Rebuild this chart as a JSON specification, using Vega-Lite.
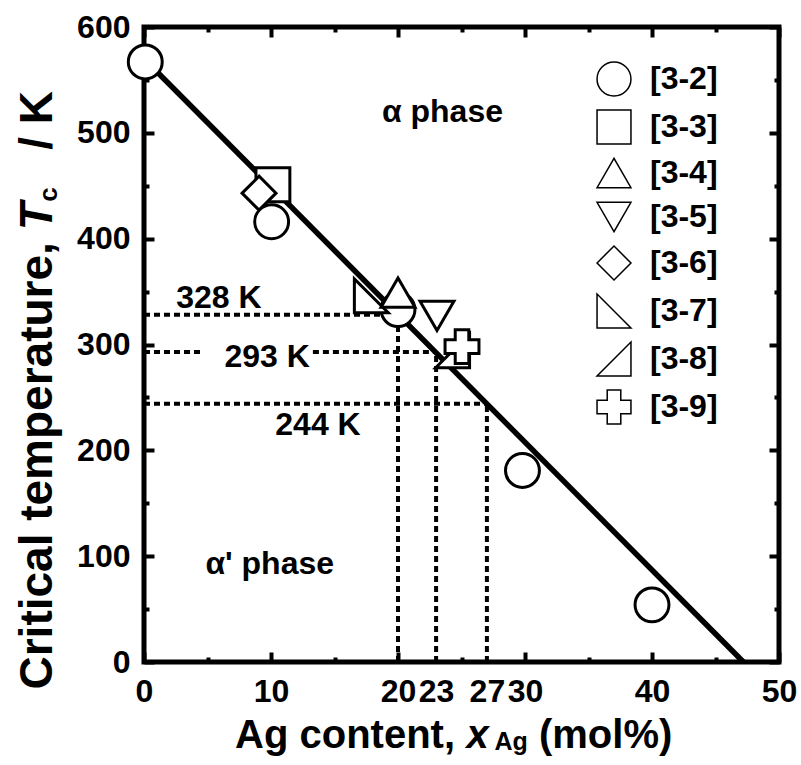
{
  "$schema": "https://vega.github.io/schema/vega-lite/v6.json",
  "width": 635,
  "height": 635,
  "autosize": "none",
  "padding": {"left": 144, "top": 27, "right": 22, "bottom": 103},
  "background": "white",
  "config": {
    "view": {"stroke": "black", "strokeWidth": 5},
    "font": "Liberation Sans",
    "axis": {
      "domain": false,
      "grid": false,
      "title": null,
      "labelFont": "Liberation Sans",
      "labelFontSize": 32,
      "labelFontWeight": "bold",
      "labelColor": "black",
      "tickColor": "black",
      "tickWidth": 4,
      "labelOverlap": false,
      "labelFlush": false
    }
  },
  "datasets": {
    "fit": [
      {"x": 0, "T": 570},
      {"x": 47.2, "T": 0}
    ],
    "guides": [
      {"x": 0, "x2": 20, "y": 328, "y2": 328},
      {"x": 0, "x2": 4.7, "y": 293, "y2": 293},
      {"x": 13.3, "x2": 23, "y": 293, "y2": 293},
      {"x": 0, "x2": 27, "y": 244, "y2": 244},
      {"x": 20, "x2": 20, "y": 0, "y2": 328},
      {"x": 23, "x2": 23, "y": 0, "y2": 293},
      {"x": 27, "x2": 27, "y": 0, "y2": 244}
    ],
    "points": [
      {"ref": "[3-3]", "x": 10.15, "T": 451},
      {"ref": "[3-6]", "x": 9.06, "T": 443},
      {"ref": "[3-2]", "x": 0.1, "T": 567},
      {"ref": "[3-2]", "x": 10.05, "T": 416},
      {"ref": "[3-2]", "x": 20.0, "T": 333},
      {"ref": "[3-2]", "x": 29.8, "T": 181},
      {"ref": "[3-2]", "x": 40.0, "T": 54},
      {"ref": "[3-7]", "x": 17.9, "T": 346},
      {"ref": "[3-4]", "x": 20.0, "T": 349},
      {"ref": "[3-5]", "x": 23.07, "T": 327},
      {"ref": "[3-8]", "x": 24.3, "T": 294},
      {"ref": "[3-9]", "x": 25.04, "T": 298}
    ],
    "notes": [
      {"x": 23.5, "T": 520, "label": "α phase"},
      {"x": 9.9, "T": 93, "label": "α' phase"},
      {"x": 5.9, "T": 344, "label": "328 K"},
      {"x": 9.7, "T": 288, "label": "293 K"},
      {"x": 13.7, "T": 224, "label": "244 K"}
    ],
    "anchor": [{}]
  },
  "resolve": {"axis": {"x": "independent", "y": "independent"}},
  "layer": [
    {
      "data": {"name": "fit"},
      "mark": {"type": "line", "color": "black", "strokeWidth": 5.5, "strokeCap": "butt"},
      "encoding": {
        "x": {
          "field": "x", "type": "quantitative",
          "scale": {"domain": [0, 50], "nice": false, "zero": false},
          "axis": {"orient": "bottom", "values": [0, 10, 20, 23, 27, 30, 40, 50], "ticks": false, "labelPadding": 14}
        },
        "y": {
          "field": "T", "type": "quantitative",
          "scale": {"domain": [0, 600], "nice": false, "zero": false},
          "axis": {"orient": "left", "values": [0, 100, 200, 300, 400, 500, 600], "ticks": false, "labelPadding": 14}
        }
      }
    },
    {
      "data": {"name": "guides"},
      "mark": {"type": "rule", "color": "black", "strokeWidth": 4, "strokeDash": [6, 4], "strokeCap": "butt"},
      "encoding": {
        "x": {"field": "x", "type": "quantitative",
          "axis": {"orient": "bottom", "values": [0, 10, 20, 30, 40, 50], "labels": false, "tickSize": -10}},
        "x2": {"field": "x2"},
        "y": {"field": "y", "type": "quantitative",
          "axis": {"orient": "left", "values": [0, 100, 200, 300, 400, 500, 600], "labels": false, "tickSize": -10}},
        "y2": {"field": "y2"}
      }
    },
    {
      "data": {"name": "notes"},
      "mark": {"type": "text", "font": "Liberation Sans", "fontWeight": "bold", "fontSize": 32, "align": "center", "baseline": "middle", "color": "black"},
      "encoding": {
        "x": {"field": "x", "type": "quantitative",
          "axis": {"orient": "bottom", "values": [5, 15, 25, 35, 45], "labels": false, "tickSize": -5}},
        "y": {"field": "T", "type": "quantitative",
          "axis": {"orient": "left", "values": [50, 150, 250, 350, 450, 550], "labels": false, "tickSize": -5}},
        "text": {"field": "label"}
      }
    },
    {
      "data": {"name": "points"},
      "mark": {"type": "point", "filled": true, "fill": "white", "stroke": "black", "strokeWidth": 3, "size": 1150, "opacity": 1},
      "encoding": {
        "x": {"field": "x", "type": "quantitative",
          "axis": {"orient": "top", "values": [0, 10, 20, 30, 40, 50], "labels": false, "tickSize": -10}},
        "y": {"field": "T", "type": "quantitative",
          "axis": {"orient": "right", "values": [0, 100, 200, 300, 400, 500, 600], "labels": false, "tickSize": -10}},
        "shape": {
          "field": "ref", "type": "nominal",
          "scale": {
            "domain": ["[3-2]", "[3-3]", "[3-4]", "[3-5]", "[3-6]", "[3-7]", "[3-8]", "[3-9]"],
            "range": ["circle", "square", "triangle-up", "triangle-down", "diamond", "M -1 -1 L -1 1 L 1 1 Z", "M 1 -1 L 1 1 L -1 1 Z", "cross"]
          },
          "legend": {
            "title": null,
            "orient": "none",
            "legendX": 452,
            "legendY": 34,
            "padding": 0,
            "symbolSize": 1150,
            "labelFont": "Liberation Sans",
            "labelFontSize": 32,
            "labelFontWeight": "bold",
            "labelColor": "black",
            "labelOffset": 18,
            "rowPadding": 8,
            "encode": {
              "symbols": {
                "update": {
                  "fill": {"value": "white"},
                  "stroke": {"value": "black"},
                  "strokeWidth": {"value": 3},
                  "opacity": {"value": 1}
                }
              }
            }
          }
        }
      }
    },
    {
      "data": {"name": "anchor"},
      "mark": {"type": "text", "font": "Liberation Sans", "fontWeight": "bold", "fontSize": 40, "align": "left", "baseline": "alphabetic", "color": "black"},
      "encoding": {
        "x": {"datum": 7.17, "type": "quantitative",
          "axis": {"orient": "top", "values": [5, 15, 25, 35, 45], "labels": false, "tickSize": -5}},
        "y": {"datum": -81, "type": "quantitative",
          "axis": {"orient": "right", "values": [50, 150, 250, 350, 450, 550], "labels": false, "tickSize": -5}},
        "text": {"value": "Ag content,"}
      }
    },
    {
      "data": {"name": "anchor"},
      "mark": {"type": "text", "font": "Liberation Sans", "fontWeight": "bold", "fontStyle": "italic", "fontSize": 40, "align": "left", "baseline": "alphabetic", "color": "black"},
      "encoding": {
        "x": {"datum": 25.4, "type": "quantitative", "axis": null},
        "y": {"datum": -81, "type": "quantitative", "axis": null},
        "text": {"value": "x"}
      }
    },
    {
      "data": {"name": "anchor"},
      "mark": {"type": "text", "font": "Liberation Sans", "fontWeight": "bold", "fontSize": 25, "align": "left", "baseline": "alphabetic", "color": "black"},
      "encoding": {
        "x": {"datum": 27.6, "type": "quantitative", "axis": null},
        "y": {"datum": -83, "type": "quantitative", "axis": null},
        "text": {"value": "Ag"}
      }
    },
    {
      "data": {"name": "anchor"},
      "mark": {"type": "text", "font": "Liberation Sans", "fontWeight": "bold", "fontSize": 40, "align": "left", "baseline": "alphabetic", "color": "black"},
      "encoding": {
        "x": {"datum": 31.1, "type": "quantitative", "axis": null},
        "y": {"datum": -81, "type": "quantitative", "axis": null},
        "text": {"value": "(mol%)"}
      }
    },
    {
      "data": {"name": "anchor"},
      "mark": {"type": "text", "font": "Liberation Sans", "fontWeight": "bold", "fontSize": 46, "angle": 270, "align": "left", "baseline": "alphabetic", "color": "black"},
      "encoding": {
        "x": {"datum": -7.24, "type": "quantitative", "axis": null},
        "y": {"datum": -26, "type": "quantitative", "axis": null},
        "text": {"value": "Critical temperature,"}
      }
    },
    {
      "data": {"name": "anchor"},
      "mark": {"type": "text", "font": "Liberation Sans", "fontWeight": "bold", "fontStyle": "italic", "fontSize": 46, "angle": 270, "align": "left", "baseline": "alphabetic", "color": "black"},
      "encoding": {
        "x": {"datum": -7.24, "type": "quantitative", "axis": null},
        "y": {"datum": 408, "type": "quantitative", "axis": null},
        "text": {"value": "T"}
      }
    },
    {
      "data": {"name": "anchor"},
      "mark": {"type": "text", "font": "Liberation Sans", "fontWeight": "bold", "fontSize": 26, "angle": 270, "align": "left", "baseline": "alphabetic", "color": "black"},
      "encoding": {
        "x": {"datum": -6.85, "type": "quantitative", "axis": null},
        "y": {"datum": 435, "type": "quantitative", "axis": null},
        "text": {"value": "c"}
      }
    },
    {
      "data": {"name": "anchor"},
      "mark": {"type": "text", "font": "Liberation Sans", "fontWeight": "bold", "fontSize": 46, "angle": 270, "align": "left", "baseline": "alphabetic", "color": "black"},
      "encoding": {
        "x": {"datum": -7.24, "type": "quantitative", "axis": null},
        "y": {"datum": 484, "type": "quantitative", "axis": null},
        "text": {"value": "/ K"}
      }
    }
  ]
}
